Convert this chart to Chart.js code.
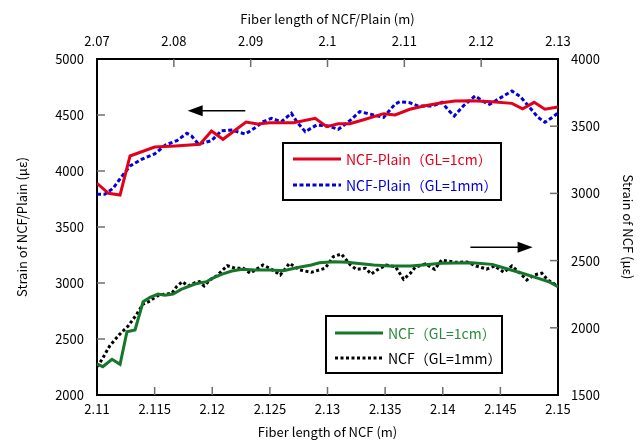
<!DOCTYPE html>
<html>
<head>
<meta charset="utf-8">
<script src="https://cdn.jsdelivr.net/npm/chart.js@4.4.0/dist/chart.umd.min.js"></script>
<style>
  html, body { margin: 0; padding: 0; background: #fff; }
</style>
</head>
<body>
<canvas id="chart" width="642" height="441"></canvas>
<script>

// NCF-Plain, read on the top x axis and the left y axis
let plainCmX = [2.0700, 2.0715, 2.0730, 2.0743, 2.0775, 2.0802, 2.0834, 2.0849, 2.0864, 2.0894,
  2.0909, 2.0925, 2.0956, 2.0984, 2.0999, 2.1014, 2.1029, 2.1047, 2.1073, 2.1088,
  2.1107, 2.1127, 2.1149, 2.1166, 2.1188, 2.1214, 2.1240, 2.1254, 2.1269, 2.1283, 2.1300];
let plainCm = [3890, 3801, 3786, 4134, 4214, 4223, 4238, 4357, 4283, 4437,
  4420, 4431, 4431, 4470, 4396, 4422, 4422, 4458, 4512, 4500,
  4551, 4583, 4610, 4625, 4628, 4619, 4604, 4556, 4613, 4551, 4571];

let plainMmX = [2.0700, 2.0710, 2.0721, 2.0732, 2.0743, 2.0758, 2.0775, 2.0789, 2.0804, 2.0817,
  2.0823, 2.0832, 2.0849, 2.0862, 2.0875, 2.0893, 2.0908, 2.0916, 2.0927, 2.0940,
  2.0953, 2.0960, 2.0971, 2.0986, 2.1001, 2.1014, 2.1029, 2.1042, 2.1060, 2.1073,
  2.1088, 2.1094, 2.1107, 2.1118, 2.1136, 2.1149, 2.1157, 2.1165, 2.1177, 2.1192,
  2.1205, 2.1211, 2.1222, 2.1240, 2.1251, 2.1264, 2.1274, 2.1283, 2.1294, 2.1300];
let plainMm = [3792, 3792, 3846, 3949, 4045, 4104, 4152, 4232, 4271, 4337,
  4313, 4241, 4271, 4360, 4366, 4330, 4396, 4440, 4470, 4440,
  4515, 4440, 4351, 4411, 4402, 4372, 4449, 4530, 4500, 4479,
  4598, 4619, 4610, 4580, 4580, 4613, 4545, 4491, 4583, 4670,
  4613, 4596, 4640, 4714, 4664, 4560, 4479, 4435, 4485, 4521];

// NCF, read on the bottom x axis and the right y axis
let ncfCmX = [2.1100, 2.1105, 2.1113, 2.1120, 2.1126, 2.1133, 2.1140, 2.1146, 2.1153, 2.1159,
  2.1166, 2.1173, 2.1185, 2.1195, 2.1200, 2.1208, 2.1217, 2.1226, 2.1237, 2.1250,
  2.1262, 2.1273, 2.1286, 2.1293, 2.1306, 2.1317, 2.1325, 2.1340, 2.1354, 2.1372,
  2.1385, 2.1399, 2.1425, 2.1443, 2.1454, 2.1469, 2.1483, 2.1492, 2.1500];
let ncfCm = [1731, 1711, 1766, 1728, 1971, 1984, 2194, 2227, 2251, 2242,
  2251, 2286, 2326, 2343, 2368, 2398, 2423, 2435, 2430, 2430,
  2425, 2447, 2467, 2484, 2492, 2488, 2480, 2467, 2460, 2460,
  2470, 2480, 2484, 2472, 2443, 2406, 2368, 2343, 2306];

let ncfMmX = [2.1100, 2.1104, 2.1111, 2.1119, 2.1127, 2.1134, 2.1140, 2.1146, 2.1152, 2.1158,
  2.1165, 2.1169, 2.1174, 2.1179, 2.1185, 2.1189, 2.1193, 2.1198, 2.1204, 2.1213,
  2.1220, 2.1227, 2.1233, 2.1244, 2.1250, 2.1259, 2.1267, 2.1276, 2.1286, 2.1298,
  2.1305, 2.1312, 2.1320, 2.1325, 2.1333, 2.1338, 2.1343, 2.1351, 2.1359, 2.1366,
  2.1372, 2.1376, 2.1385, 2.1393, 2.1399, 2.1411, 2.1421, 2.1429, 2.1438, 2.1445,
  2.1453, 2.1460, 2.1467, 2.1473, 2.1479, 2.1486, 2.1491, 2.1496, 2.1500];
let ncfMm = [1711, 1760, 1865, 1946, 2013, 2095, 2177, 2199, 2237, 2249,
  2257, 2306, 2343, 2311, 2336, 2343, 2311, 2356, 2388, 2462,
  2443, 2443, 2406, 2467, 2443, 2393, 2480, 2430, 2413, 2443,
  2529, 2549, 2467, 2435, 2443, 2400, 2430, 2467, 2455, 2361,
  2406, 2450, 2475, 2435, 2504, 2487, 2490, 2460, 2437, 2460,
  2413, 2460, 2406, 2356, 2393, 2406, 2356, 2331, 2306];

let labels = ['NCF-Plain（GL=1cm）', 'NCF-Plain（GL=1mm）', 'NCF（GL=1cm）', 'NCF（GL=1mm）'];

// arrows: [axis x, axis y, from x, to x (tip), at y]
let arrows = [
  ['x2', 'y', 2.0893, 2.0818, 4538],
  ['x', 'y2', 2.1424, 2.1478, 2599]
];

function points(xs, ys) {
  return xs.map((x, i) => ({ x: x, y: ys[i] }));
}

function fmt(v) {
  return String(+v.toFixed(3));
}

const RED = '#e3001b', BLUE = '#0000dc', GREEN = '#16762a', BLACK = '#000';

// tick marks drawn on the inside of the frame
const innerTicks = {
  id: 'innerTicks',
  afterDraw(chart) {
    const ctx = chart.ctx, a = chart.chartArea;
    ctx.save();
    ctx.strokeStyle = '#6e6e6e';
    ctx.lineWidth = 1.5;
    ['x', 'x2', 'y', 'y2'].forEach(id => {
      const s = chart.scales[id];
      s.ticks.forEach(t => {
        const p = s.getPixelForValue(t.value);
        ctx.beginPath();
        if (id === 'x' || id === 'x2') {
          if (p < a.left + 2 || p > a.right - 2) return;
          const y0 = id === 'x' ? a.bottom : a.top;
          ctx.moveTo(p, y0);
          ctx.lineTo(p, id === 'x' ? y0 - 8 : y0 + 8);
        } else {
          if (p < a.top + 2 || p > a.bottom - 2) return;
          const x0 = id === 'y' ? a.left : a.right;
          ctx.moveTo(x0, p);
          ctx.lineTo(id === 'y' ? x0 + 8 : x0 - 8, p);
        }
        ctx.stroke();
      });
    });
    ctx.restore();
  }
};

const extras = {
  id: 'extras',
  afterDraw(chart) {
    const ctx = chart.ctx;
    ctx.save();

    // arrows
    ctx.strokeStyle = '#000';
    ctx.fillStyle = '#000';
    ctx.lineWidth = 1.5;
    arrows.forEach(ar => {
      const sx = chart.scales[ar[0]], sy = chart.scales[ar[1]];
      const x0 = sx.getPixelForValue(ar[2]), x1 = sx.getPixelForValue(ar[3]);
      const y = sy.getPixelForValue(ar[4]);
      const dir = x1 > x0 ? 1 : -1;
      ctx.beginPath();
      ctx.moveTo(x0, y);
      ctx.lineTo(x1 - dir * 10, y);
      ctx.stroke();
      ctx.beginPath();
      ctx.moveTo(x1, y);
      ctx.lineTo(x1 - dir * 15, y - 5.5);
      ctx.lineTo(x1 - dir * 15, y + 5.5);
      ctx.closePath();
      ctx.fill();
    });

    // legend boxes
    const boxes = [
      { x: 283, y: 143, w: 218, h: 57, items: [[0, RED, [], 3], [1, BLUE, [4, 2.5], 3]], lx: 293, lw: 48, ty: [159, 185] },
      { x: 326, y: 316, w: 176, h: 57, items: [[2, GREEN, [], 3], [3, BLACK, [3, 2.5], 3]], lx: 335, lw: 48, ty: [333, 358] }
    ];
    ctx.font = "14px 'Noto Sans CJK JP', 'Noto Sans', sans-serif";
    ctx.textBaseline = 'middle';
    boxes.forEach(b => {
      ctx.fillStyle = '#fff';
      ctx.fillRect(b.x, b.y, b.w, b.h);
      ctx.strokeStyle = '#000';
      ctx.lineWidth = 2;
      ctx.setLineDash([]);
      ctx.strokeRect(b.x, b.y, b.w, b.h);
      b.items.forEach((it, k) => {
        const y = b.ty[k];
        ctx.strokeStyle = it[1];
        ctx.lineWidth = it[3];
        ctx.setLineDash(it[2]);
        ctx.beginPath();
        ctx.moveTo(b.lx, y);
        ctx.lineTo(b.lx + b.lw, y);
        ctx.stroke();
        ctx.fillStyle = it[1] === GREEN ? '#2a8a3a' : it[1];
        ctx.fillText(labels[it[0]], b.lx + b.lw + 5, y + 1);
      });
    });
    ctx.restore();
  }
};

Chart.defaults.font.family = "'Noto Sans CJK JP', 'Noto Sans', sans-serif";
Chart.defaults.font.size = 13;
Chart.defaults.color = '#000';

const ctx = document.getElementById('chart');

new Chart(ctx, {
  type: 'line',
  data: {
    datasets: [
      {
        label: labels[0],
        data: points(plainCmX, plainCm),
        xAxisID: 'x2', yAxisID: 'y',
        borderColor: RED, borderWidth: 3
      },
      {
        label: labels[1],
        data: points(plainMmX, plainMm),
        xAxisID: 'x2', yAxisID: 'y',
        borderColor: BLUE, borderWidth: 3, borderDash: [4, 2.5]
      },
      {
        label: labels[2],
        data: points(ncfCmX, ncfCm),
        xAxisID: 'x', yAxisID: 'y2',
        borderColor: GREEN, borderWidth: 3
      },
      {
        label: labels[3],
        data: points(ncfMmX, ncfMm),
        xAxisID: 'x', yAxisID: 'y2',
        borderColor: BLACK, borderWidth: 3, borderDash: [3, 2.5]
      }
    ]
  },
  options: {
    responsive: false,
    animation: false,
    layout: { padding: 0 },
    elements: {
      point: { radius: 0, hoverRadius: 0 },
      line: { tension: 0, borderCapStyle: 'butt', fill: false }
    },
    plugins: {
      legend: { display: false },
      tooltip: { enabled: false }
    },
    scales: {
      x: {
        type: 'linear', position: 'bottom',
        min: 2.11, max: 2.15,
        ticks: { stepSize: 0.005, padding: 6, maxRotation: 0, autoSkip: false, callback: fmt },
        grid: { display: false, drawTicks: false },
        border: { color: '#000', width: 2 },
        title: { display: true, text: 'Fiber length of NCF (m)', padding: { top: 0, bottom: 1 } },
        afterFit: s => { s.height = 46; }
      },
      x2: {
        type: 'linear', position: 'top',
        min: 2.07, max: 2.13,
        ticks: { stepSize: 0.01, padding: 10, maxRotation: 0, autoSkip: false, callback: fmt },
        grid: { display: false, drawTicks: false },
        border: { color: '#000', width: 2 },
        title: { display: true, text: 'Fiber length of NCF/Plain (m)', padding: { top: 11, bottom: 0 } },
        afterFit: s => { s.height = 59; }
      },
      y: {
        type: 'linear', position: 'left',
        min: 2000, max: 5000,
        ticks: { stepSize: 500, padding: 13, callback: fmt },
        grid: { display: false, drawTicks: false },
        border: { color: '#000', width: 2 },
        title: { display: true, text: 'Strain of NCF/Plain (με)', padding: { top: 14, bottom: 0 } },
        afterFit: s => { s.width = 97; }
      },
      y2: {
        type: 'linear', position: 'right',
        min: 1500, max: 4000,
        ticks: { stepSize: 500, padding: 13, callback: fmt },
        grid: { display: false, drawTicks: false },
        border: { color: '#000', width: 2 },
        title: { display: true, text: 'Strain of NCF (με)', padding: { top: 6, bottom: 0 } },
        afterFit: s => { s.width = 84; }
      }
    }
  },
  plugins: [innerTicks, extras]
});
</script>
</body>
</html>
